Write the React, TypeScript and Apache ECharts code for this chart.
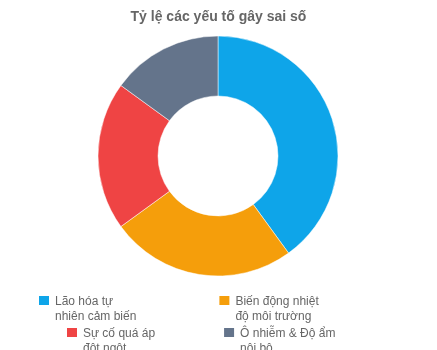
import React, { useEffect, useRef } from "react";
import * as echarts from "echarts";

const titleText = "Tỷ lệ các yếu tố gây sai số";
const categories = [
  "Lão hóa tự nhiên cảm biến",
  "Biến động nhiệt độ môi trường",
  "Sự cố quá áp đột ngột",
  "Ô nhiễm & Độ ẩm nội bộ",
];
const labelLines1 = ["Lão hóa tự", "Biến động nhiệt", "Sự cố quá áp", "Ô nhiễm & Độ ẩm"];
const labelLines2 = ["nhiên cảm biến", "độ môi trường", "đột ngột", "nội bộ"];
const values = [40, 25, 20, 15];
const colors = ["#0EA5E9", "#F59E0B", "#EF4444", "#64748B"];

const FONT = "'Liberation Sans', Arial, Helvetica, sans-serif";

export default function App() {
  const ref = useRef<HTMLDivElement>(null);
  useEffect(() => {
    if (!ref.current) return;
    const chart = echarts.init(ref.current, null, { renderer: "svg" });
    // a leading empty line keeps the first text line level with the legend icon
    const fmt = (name: string) => {
      const i = categories.indexOf(name);
      return i >= 0 ? `\n${labelLines1[i]}\n${labelLines2[i]}` : name;
    };
    const legendText = { color: "#666", fontSize: 12, fontFamily: FONT, lineHeight: 15 };
    const common = {
      padding: 0,
      orient: "horizontal",
      icon: "rect",
      itemWidth: 12,
      itemHeight: 11,
      formatter: fmt,
      textStyle: legendText,
      selectedMode: false,
    };
    chart.setOption({
      animation: false,
      color: colors,
      title: {
        text: titleText,
        left: "center",
        top: 9,
        padding: 0,
        textStyle: { color: "#666", fontSize: 14, fontWeight: "bold", fontFamily: FONT },
      },
      legend: [
        { ...common, data: categories.slice(0, 2), left: 37, top: 278, itemGap: 81 },
        { ...common, data: categories.slice(2, 4), left: 65, top: 310, itemGap: 67 },
      ],
      series: [
        {
          type: "pie",
          center: [218, 156],
          radius: [60, 120],
          startAngle: 90,
          clockwise: true,
          label: { show: false },
          labelLine: { show: false },
          itemStyle: { borderColor: "#fff", borderWidth: 0.5 },
          emphasis: { disabled: true },
          data: categories.map((name, i) => ({ name, value: values[i] })),
        },
      ],
    });
    return () => chart.dispose();
  }, []);
  return (
    <div
      ref={ref}
      style={{ position: "fixed", left: 0, top: 0, width: 437, height: 350 }}
    />
  );
}
